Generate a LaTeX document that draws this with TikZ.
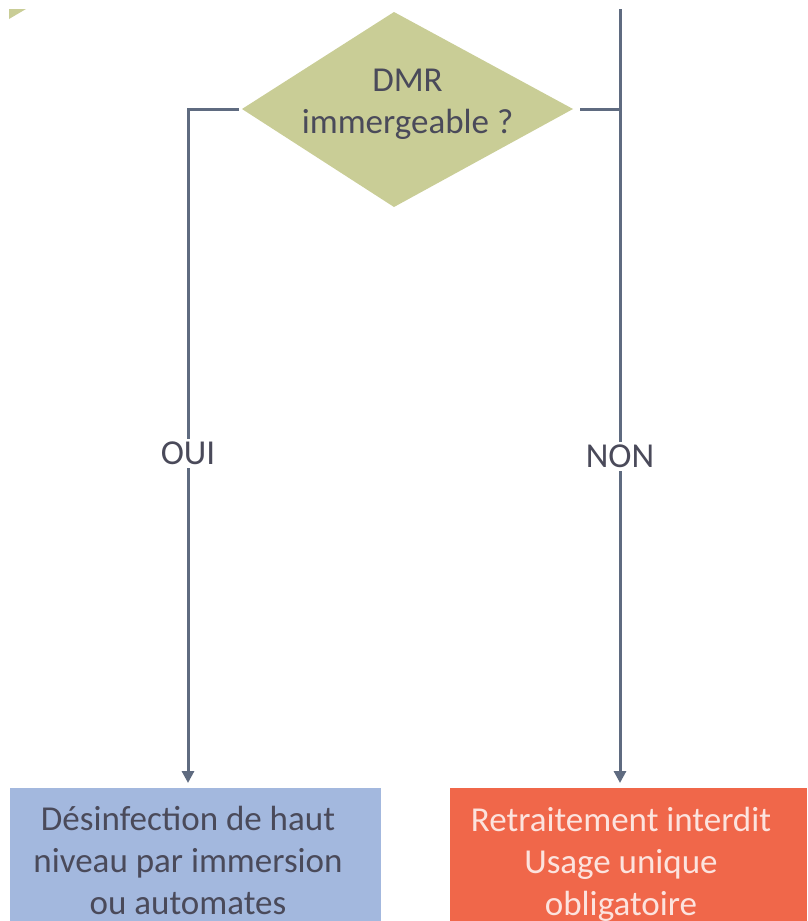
\documentclass[tikz,border=0pt]{standalone}
\usepackage{fontspec}
\setmainfont{Carlito}
\usetikzlibrary{arrows.meta}

\definecolor{decisionfill}{HTML}{C9CD96}
\definecolor{connector}{HTML}{5F6B80}
\definecolor{bluebox}{HTML}{A3B8DE}
\definecolor{redbox}{HTML}{F0674A}
\definecolor{darktext}{HTML}{4A4A5A}
\definecolor{lighttext}{HTML}{FCE3DE}

\tikzset{
  bigtext/.style={font=\fontsize{35}{42}\selectfont},
  decisiontext/.style={bigtext, align=center, text=darktext, inner sep=0pt},
  outcome/.style={rectangle, inner sep=0pt},
  outcometext/.style={bigtext, align=center, inner sep=0pt},
  conn/.style={draw=connector, line width=3pt},
  arrowconn/.style={conn, -{Triangle[width=12pt,length=12pt]}, shorten >=5pt},
  branchlabel/.style={bigtext, fill=white, inner sep=3pt, text=darktext}
}

\begin{document}
\begin{tikzpicture}[x=1pt,y=-1pt]
  \useasboundingbox (0,0) rectangle (807,921);

  % small olive corner mark
  \fill[decisionfill] (9,9) -- (26,9) -- (9,19) -- cycle;

  % decision diamond
  \coordinate (dmrW) at (242,109);
  \coordinate (dmrN) at (394,12);
  \coordinate (dmrE) at (573,109);
  \coordinate (dmrS) at (394,207);
  \fill[decisionfill] (dmrW) -- (dmrN) -- (dmrE) -- (dmrS) -- cycle;
  \node[decisiontext] (dmr) at (407.5,104) {DMR\\immergeable ?};

  % outcomes
  \node[outcome, fill=bluebox, minimum width=371pt, minimum height=140pt,
        anchor=north west] (hld) at (10,788) {};
  \node[outcome, fill=redbox, minimum width=357pt, minimum height=140pt,
        anchor=north west] (ban) at (450,788) {};

  \node[outcometext, text=darktext] (hldtext) at (188,860)
    {Désinfection de haut\\niveau par immersion\\ou automates};
  \node[outcometext, text=lighttext] (bantext) at (621,864)
    {Retraitement interdit\\Usage unique\\obligatoire};

  % connector turning points
  \coordinate (lturn) at (188,109);
  \coordinate (lend) at (188,788);
  \coordinate (rtop) at (620,9);
  \coordinate (rturn) at (620,109);
  \coordinate (rend) at (620,788);

  % OUI branch
  \draw[conn, shorten <=3pt] (dmrW) -- ([xshift=-1.5pt]lturn);
  \draw[arrowconn] ([yshift=-1.5pt]lturn) -- node[branchlabel, pos=0.506] (oui) {OUI} (lend);

  % NON branch
  \draw[conn, shorten <=7pt] (dmrE) -- (rturn);
  \draw[conn] (rtop) -- (rturn);
  \draw[arrowconn] (rturn) -- node[branchlabel, pos=0.512] (non) {NON} (rend);
\end{tikzpicture}
\end{document}
